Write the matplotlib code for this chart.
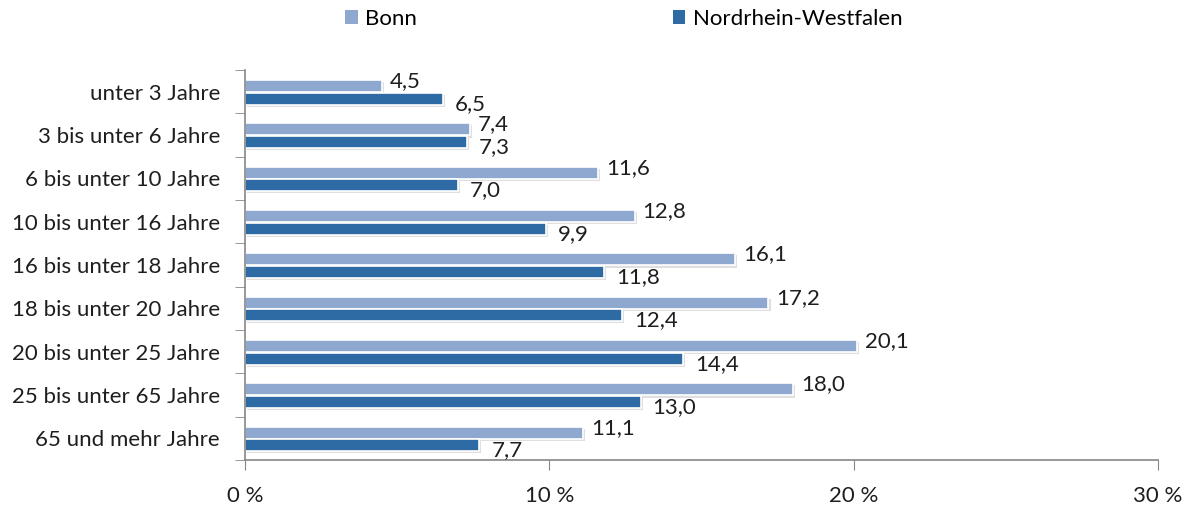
import numpy as np
import matplotlib.pyplot as plt
import matplotlib.patheffects as pe
from matplotlib.patches import Patch

# === Data ===
categories = ['unter 3 Jahre', '3 bis unter 6 Jahre', '6 bis unter 10 Jahre',
              '10 bis unter 16 Jahre', '16 bis unter 18 Jahre', '18 bis unter 20 Jahre',
              '20 bis unter 25 Jahre', '25 bis unter 65 Jahre', '65 und mehr Jahre']
bonn = [4.5, 7.4, 11.6, 12.8, 16.1, 17.2, 20.1, 18.0, 11.1]
nrw = [6.5, 7.3, 7.0, 9.9, 11.8, 12.4, 14.4, 13.0, 7.7]
x_ticks = [0, 10, 20, 30]
x_ticklabels = ['0 %', '10 %', '20 %', '30 %']

plt.rcParams['font.family'] = ['Lato', 'DejaVu Sans']
fs = 16
col_bonn = '#8EA8D0'
col_nrw = '#2E6BA5'
grey = '#868686'
txt = '#1e1e1e'

fig = plt.figure(figsize=(11.93, 5.08), dpi=100)
ax = fig.add_axes([245 / 1193, 1 - 460 / 508, (1158 - 245) / 1193, (460 - 70) / 508])

y = np.arange(len(categories))
h = 0.28
shadow = [pe.SimplePatchShadow(offset=(1.5, -1.5), shadow_rgbFace='#b0b0b0', alpha=0.4), pe.Normal()]
ax.barh(y - 0.13, bonn, height=h, color=col_bonn, edgecolor='white', linewidth=1.2,
        path_effects=shadow)
ax.barh(y + 0.16, nrw, height=h, color=col_nrw, edgecolor='white', linewidth=1.2,
        path_effects=shadow)

fmt = lambda v: f'{v:.1f}'.replace('.', ',')
for yy, v in zip(y, bonn):
    ax.annotate(fmt(v), (v, yy - 0.13), xytext=(8, 5), textcoords='offset pixels',
                ha='left', va='center', fontsize=fs, color=txt)
for yy, v in zip(y, nrw):
    ax.annotate(fmt(v), (v, yy + 0.16), xytext=(12, -5), textcoords='offset pixels',
                ha='left', va='center', fontsize=fs, color=txt)

ax.set_xlim(0, 30)
ax.set_ylim(len(categories) - 0.5, -0.5)
ax.set_xticks(x_ticks)
ax.set_xticklabels(x_ticklabels, fontsize=fs, color=txt)
ax.set_yticks(y)
ax.set_yticklabels(categories, fontsize=fs, color=txt)
ax.set_yticks(np.arange(len(categories) + 1) - 0.5, minor=True)
ax.tick_params(axis='y', which='major', length=0, pad=18)
ax.tick_params(axis='y', which='minor', length=7, color=grey, direction='out')
ax.tick_params(axis='x', length=7, color=grey, direction='out', pad=12)
for s in ['top', 'right']:
    ax.spines[s].set_visible(False)
for s in ['left', 'bottom']:
    ax.spines[s].set_color(grey)
    ax.spines[s].set_linewidth(1.2)

handles = [Patch(facecolor=col_bonn, label='Bonn'),
           Patch(facecolor=col_nrw, label='Nordrhein-Westfalen')]
fig.legend(handles=handles, loc='upper center', bbox_to_anchor=(0.523, 1.022), ncol=2,
           frameon=False, fontsize=fs, handlelength=0.55, handleheight=0.55,
           handletextpad=0.35, columnspacing=11.5)

plt.savefig('out.png', dpi=100)
